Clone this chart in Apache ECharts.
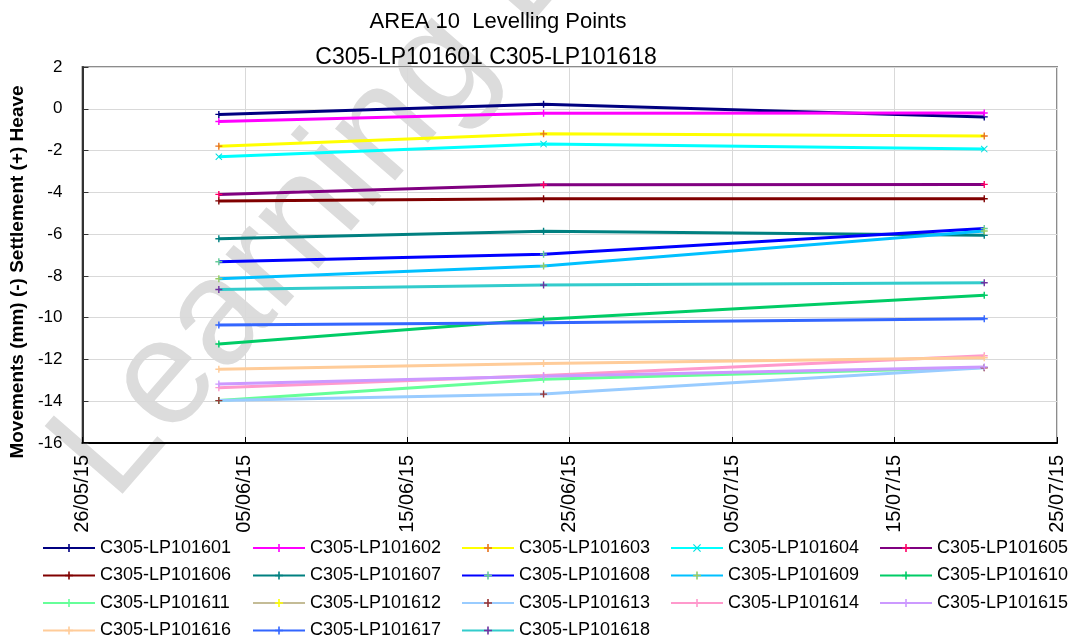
<!DOCTYPE html>
<html>
<head>
<meta charset="utf-8">
<script src="https://cdn.jsdelivr.net/npm/echarts@6/dist/echarts.min.js"></script>
<style>
html,body{margin:0;padding:0;background:#fff;}
#chart{width:1069px;height:644px;}
</style>
</head>
<body>
<div id="chart"></div>
<script>
// ---- data ----
const axisStart = '2015-05-26';
const surveyDates = ['2015-06-03T09:30', '2015-06-23T09:20', '2015-07-20T12:30'];
const yTicks = [-16, -14, -12, -10, -8, -6, -4, -2, 0, 2];

const pointNames = ['C305-LP101601','C305-LP101602','C305-LP101603','C305-LP101604','C305-LP101605',
  'C305-LP101606','C305-LP101607','C305-LP101608','C305-LP101609','C305-LP101610',
  'C305-LP101611','C305-LP101612','C305-LP101613','C305-LP101614','C305-LP101615',
  'C305-LP101616','C305-LP101617','C305-LP101618'];

const lp101601 = [-0.27, 0.22, -0.39];
const lp101602 = [-0.61, -0.21, -0.20];
const lp101603 = [-1.79, -1.20, -1.30];
const lp101604 = [-2.30, -1.69, -1.93];
const lp101605 = [-4.10, -3.64, -3.62];
const lp101606 = [-4.41, -4.31, -4.31];
const lp101607 = [-6.22, -5.86, -6.06];
const lp101608 = [-7.32, -6.96, -5.73];
const lp101609 = [-8.14, -7.53, -5.85];
const lp101610 = [-11.26, -10.08, -8.93];
const lp101611 = [-13.97, -12.95, -12.38];
const lp101612 = [null, null, null];
const lp101613 = [-13.97, -13.66, -12.40];
const lp101614 = [-13.35, -12.77, -11.82];
const lp101615 = [-13.18, -12.80, -12.36];
const lp101616 = [-12.47, -12.19, -11.92];
const lp101617 = [-10.35, -10.24, -10.05];
const lp101618 = [-8.65, -8.44, -8.33];

const seriesValues = [lp101601, lp101602, lp101603, lp101604, lp101605, lp101606, lp101607, lp101608, lp101609,
  lp101610, lp101611, lp101612, lp101613, lp101614, lp101615, lp101616, lp101617, lp101618];

// ---- styles ----
const lineColors = ['#000080','#ff00ff','#ffff00','#00ffff','#800080','#800000','#008080','#0000ff','#00c0ff',
  '#00cc66','#66ff99','#c4bc96','#99ccff','#ff99cc','#cc99ff','#ffcc99','#3366ff','#33cccc'];
const markerColors = ['#000080','#ff00ff','#e8731c','#00e0e0','#ff0066','#800000','#008080','#66cc99','#99cc66',
  '#00cc66','#66ff99','#ffff00','#993333','#ff99cc','#cc99ff','#ffcc99','#3366ff','#7030a0'];

const DAY = 86400000;
function toUTC(s){
  const [d, t] = s.split('T');
  const [Y, M, D] = d.split('-').map(Number);
  const [h, m] = (t || '0:0').split(':').map(Number);
  return Date.UTC(Y, M - 1, D, h, m);
}
const base = toUTC(axisStart);
const dayOffsets = surveyDates.map(s => (toUTC(s) - base) / DAY);
function pad(n){ return (n < 10 ? '0' : '') + n; }
function fmtDay(v){
  const dt = new Date(base + v * DAY);
  return pad(dt.getUTCDate()) + '/' + pad(dt.getUTCMonth() + 1) + '/' + pad(dt.getUTCFullYear() % 100);
}

const FONT = 'Liberation Sans';
const plusPath = 'path://M0,4H10V6H0Z M4,0H6V10H4Z';
const xPath = 'path://M0,1L1,0L10,9L9,10Z M9,0L10,1L1,10L0,9Z';

const series = pointNames.map((name, i) => ({
  name: name,
  type: 'line',
  data: seriesValues[i].map((v, k) => [dayOffsets[k], v]),
  symbol: i === 3 ? xPath : plusPath,
  symbolSize: 7,
  showSymbol: true,
  lineStyle: { color: lineColors[i], width: 3 },
  itemStyle: { color: markerColors[i] },
  emphasis: { disabled: true },
  animation: false
}));

const colX = [42, 252, 461, 670, 879];
const legends = colX.map((x, c) => ({
  orient: 'vertical',
  left: x,
  top: 539,
  itemWidth: 52,
  itemHeight: 10,
  itemGap: 9.5,
  padding: 0,
  data: pointNames.filter((_, i) => i % 5 === c),
  textStyle: { fontFamily: FONT, fontSize: 18, color: '#000', lineHeight: 18 },
  selectedMode: false
}));

const chart = echarts.init(document.getElementById('chart'), null, { renderer: 'canvas' });
chart.setOption({
  animation: false,
  backgroundColor: '#fff',
  title: [
    { text: 'AREA 10  Levelling Points', left: 493, top: 6, textAlign: 'center',
      textStyle: { fontFamily: FONT, fontSize: 22, fontWeight: 'normal', color: '#000' } },
    { text: 'C305-LP101601 C305-LP101618', left: 481, top: 41, textAlign: 'center',
      textStyle: { fontFamily: FONT, fontSize: 23, fontWeight: 'normal', color: '#000' } }
  ],
  graphic: [{
    type: 'text', silent: true, z: -10,
    x: 140, y: 525, rotation: 49 * Math.PI / 180,
    style: { text: 'Learning L', font: '150px "Liberation Sans"', fill: '#dcdcdc',
      align: 'left', verticalAlign: 'bottom' }
  }],
  legend: legends,
  grid: { left: 79, top: 67, right: 12, bottom: 201, show: true, borderColor: '#8c8c8c', borderWidth: 2,
    backgroundColor: 'transparent' },
  xAxis: {
    type: 'value', min: 0, max: 60, interval: 10,
    axisLine: { show: true, onZero: false, lineStyle: { color: '#000', width: 2 } },
    axisTick: { show: true, inside: true, length: 6, lineStyle: { color: '#000' } },
    axisLabel: { formatter: fmtDay, rotate: 90, margin: 12, fontFamily: FONT, fontSize: 20, color: '#000' },
    splitLine: { show: true, lineStyle: { color: '#d9d9d9', width: 1 } }
  },
  yAxis: {
    type: 'value', min: yTicks[0], max: yTicks[yTicks.length - 1], interval: 2,
    name: 'Movements (mm) (-) Settlement (+) Heave',
    nameLocation: 'middle', nameGap: 50, nameRotate: 90,
    nameTextStyle: { fontFamily: FONT, fontSize: 19, fontWeight: 'bold', color: '#000', padding: [0, 34, 0, 0] },
    axisLine: { show: true, onZero: false, lineStyle: { color: '#333', width: 2 } },
    axisTick: { show: true, inside: true, length: 6, lineStyle: { color: '#333' } },
    axisLabel: { margin: 20, fontFamily: FONT, fontSize: 17, color: '#000' },
    splitLine: { show: true, lineStyle: { color: '#d9d9d9', width: 1 } }
  },
  series: series
});
</script>
</body>
</html>
